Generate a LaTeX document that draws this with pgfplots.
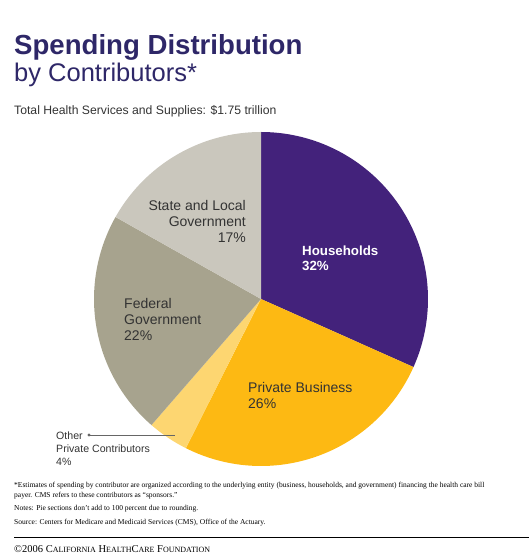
\documentclass[border=0pt]{standalone}
\usepackage{pgfplots}
\pgfplotsset{compat=1.18}
\usepackage{fontspec}
\setmainfont{Liberation Sans}
\newfontfamily\seriffont{Liberation Serif}
\definecolor{titlec}{HTML}{2E2768}
\definecolor{hh}{HTML}{43227B}
\definecolor{pb}{HTML}{FDB913}
\definecolor{op}{HTML}{FDD671}
\definecolor{fg}{HTML}{A7A38E}
\definecolor{sl}{HTML}{CAC7BD}
\definecolor{txt}{HTML}{333333}
\begin{document}
\begin{tikzpicture}[x=1pt,y=1pt]
\useasboundingbox (0,0) rectangle (529,559);
% values (percent)
\def\vHH{32}\def\vPB{26}\def\vOP{4}\def\vFG{22}\def\vSL{17}
\pgfmathsetmacro\tot{\vHH+\vPB+\vOP+\vFG+\vSL}
\pgfmathsetmacro\aA{90}
\pgfmathsetmacro\aB{\aA-\vHH*360/\tot}
\pgfmathsetmacro\aC{\aB-\vPB*360/\tot}
\pgfmathsetmacro\aD{\aC-\vOP*360/\tot}
\pgfmathsetmacro\aE{\aD-\vFG*360/\tot}
\pgfmathsetmacro\aF{\aE-\vSL*360/\tot}
\begin{axis}[at={(0,0)},anchor=south west,x=1pt,y=1pt,
  xmin=0,xmax=529,ymin=0,ymax=559,hide axis,clip=false]
\addplot[fill=hh,draw=none,domain=\aB:\aA,samples=80,variable=\t] ({261+167*cos(\t)},{260+167*sin(\t)}) -- (axis cs:261,260) -- cycle;
\addplot[fill=pb,draw=none,domain=\aC:\aB,samples=80,variable=\t] ({261+167*cos(\t)},{260+167*sin(\t)}) -- (axis cs:261,260) -- cycle;
\addplot[fill=op,draw=none,domain=\aD:\aC,samples=20,variable=\t] ({261+167*cos(\t)},{260+167*sin(\t)}) -- (axis cs:261,260) -- cycle;
\addplot[fill=fg,draw=none,domain=\aE:\aD,samples=80,variable=\t] ({261+167*cos(\t)},{260+167*sin(\t)}) -- (axis cs:261,260) -- cycle;
\addplot[fill=sl,draw=none,domain=\aF:\aE,samples=60,variable=\t] ({261+167*cos(\t)},{260+167*sin(\t)}) -- (axis cs:261,260) -- cycle;
\end{axis}
% titles
\node[anchor=base west,inner sep=0,text=titlec,font=\fontsize{27.6}{30}\selectfont\bfseries] at (14,504) {Spending Distribution};
\node[anchor=base west,inner sep=0,text=titlec,font=\fontsize{25.5}{28}\selectfont] at (14,477) {by Contributors*};
\node[anchor=base west,inner sep=0,text=txt,font=\fontsize{12.2}{14}\selectfont] at (14,444) {Total Health Services and Supplies: \$1.75 trillion};
% labels (base = last line)
\node[anchor=base west,inner sep=0,text=white,align=left,font=\fontsize{13.3}{15.5}\selectfont\bfseries] at (302,288) {Households\\32\%};
\node[anchor=base east,inner sep=0,text=txt,align=right,font=\fontsize{14}{16.3}\selectfont] at (246,316) {State and Local\\Government\\17\%};
\node[anchor=base west,inner sep=0,text=txt,align=left,font=\fontsize{14}{16.3}\selectfont] at (124,218) {Federal\\Government\\22\%};
\node[anchor=base west,inner sep=0,text=txt,align=left,font=\fontsize{14}{16}\selectfont] at (248,150) {Private Business\\26\%};
\node[anchor=base west,inner sep=0,text=txt,align=left,font=\fontsize{10.6}{13}\selectfont] at (56,93) {Other\\Private Contributors\\4\%};
\draw[gray!80!black,line width=0.5pt] (89,124) -- (175,124);
\fill[gray!80!black] (89,124) circle (1.6);
% footnotes
\begin{scope}[font=\seriffont\fontsize{7.5}{10}\selectfont,text=black]
\node[anchor=base west,inner sep=0,align=left] at (14,61) {*Estimates of spending by contributor are organized according to the underlying entity (business, households, and government) financing the health care bill\\payer. CMS refers to these contributors as “sponsors.”};
\node[anchor=base west,inner sep=0] at (14,48) {Notes: Pie sections don’t add to 100 percent due to rounding.};
\node[anchor=base west,inner sep=0] at (14,34) {Source: Centers for Medicare and Medicaid Services (CMS), Office of the Actuary.};
\end{scope}
\draw[black,line width=0.6pt] (14,22) -- (529,22);
\node[anchor=base west,inner sep=0,font=\seriffont\fontsize{10.5}{12}\selectfont] at (14,6) {\textcopyright2006 C{\fontsize{8}{9}\selectfont ALIFORNIA} H{\fontsize{8}{9}\selectfont EALTH}C{\fontsize{8}{9}\selectfont ARE} F{\fontsize{8}{9}\selectfont OUNDATION}};
\end{tikzpicture}
\end{document}
